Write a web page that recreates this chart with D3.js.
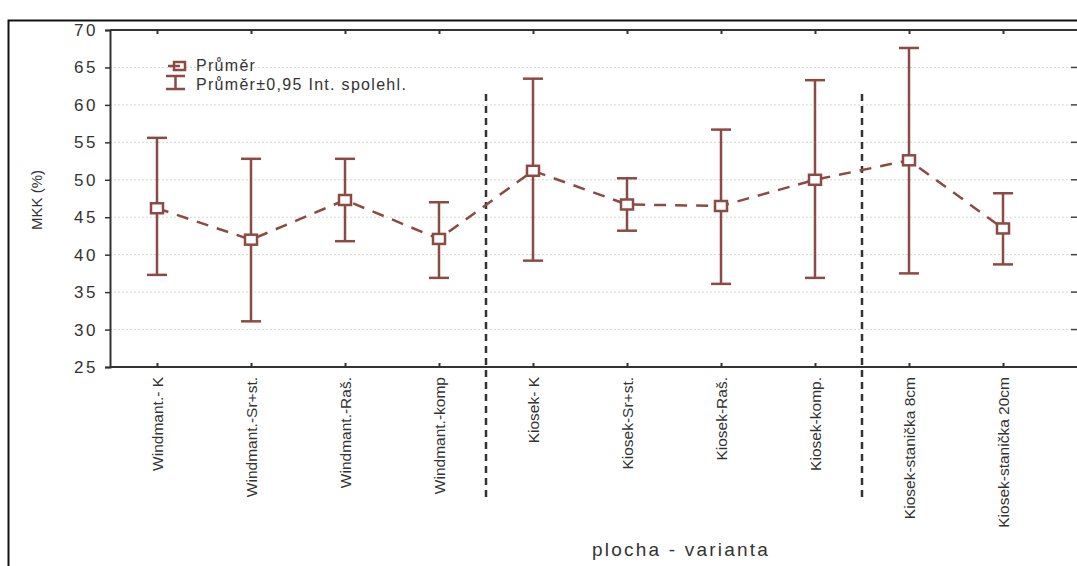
<!DOCTYPE html>
<html>
<head>
<meta charset="utf-8">
<script src="https://cdn.jsdelivr.net/npm/d3@7"></script>
<style>
  body { margin: 0; background: #fff; }
  svg { display: block; font-family: "Liberation Sans", Arial, sans-serif; }
</style>
</head>
<body>
<div id="chart"></div>
<script>
// data
const categories = ["Windmant.- K", "Windmant.-Sr+st.", "Windmant.-Raš.", "Windmant.-komp",
    "Kiosek- K", "Kiosek-Sr+st.", "Kiosek-Raš.", "Kiosek-komp.",
    "Kiosek-stanička 8cm", "Kiosek-stanička 20cm"];
const means = [46.2, 42.0, 47.3, 42.1, 51.2, 46.7, 46.5, 50.0, 52.6, 43.5];
const upper = [55.6, 52.8, 52.8, 47.0, 63.5, 50.2, 56.7, 63.3, 67.6, 48.2];
const lower = [37.3, 31.1, 41.8, 36.9, 39.2, 43.2, 36.1, 36.9, 37.5, 38.7];
const yTicks = [25, 30, 35, 40, 45, 50, 55, 60, 65, 70];
// group separators sit between these categories
const separators = [[3, 4], [7, 8]];

const W = 1077, H = 566;
const margin = {top: 30, left: 110, bottom: 199};
const plotBottom = H - margin.bottom;
const red = "#8c4a44";

const svg = d3.select("#chart").append("svg")
    .attr("width", W).attr("height", H);

// outer frame
svg.append("path")
    .attr("d", "M8.5," + H + "V20.5H" + W)
    .attr("fill", "none").attr("stroke", "#111").attr("stroke-width", 2);

const x = d3.scalePoint().domain(categories).range([margin.left, 1050]).padding(0.5);
const y = d3.scaleLinear().domain([25, 70]).range([plotBottom, margin.top]);

// gridlines
svg.append("g").selectAll("line")
    .data(yTicks.slice(1, -1))
    .enter().append("line")
    .attr("x1", margin.left).attr("x2", W)
    .attr("y1", d => y(d)).attr("y2", d => y(d))
    .attr("stroke", "#d6d6d6").attr("stroke-width", 1)
    .attr("stroke-dasharray", "2,2");

// right side ticks
svg.append("g").selectAll("line")
    .data(yTicks)
    .enter().append("line")
    .attr("x1", 1071).attr("x2", W)
    .attr("y1", d => y(d)).attr("y2", d => y(d))
    .attr("stroke", "#444").attr("stroke-width", 1.5);

// left axis
const yAxis = svg.append("g")
    .attr("transform", "translate(" + margin.left + ",0)")
    .call(d3.axisLeft(y).tickValues(yTicks).tickSize(5).tickPadding(7));
yAxis.select(".domain").attr("stroke", "#333").attr("stroke-width", 2);
yAxis.selectAll(".tick line").attr("stroke", "#333").attr("stroke-width", 1.5);
yAxis.selectAll("text").attr("font-size", 17).attr("letter-spacing", 2.5).attr("fill", "#333");

// bottom axis
const xAxis = svg.append("g")
    .attr("transform", "translate(0," + plotBottom + ")")
    .call(d3.axisBottom(x).tickSize(-4).tickPadding(8));
xAxis.select(".domain").attr("d", "M" + margin.left + ",0H" + W)
    .attr("stroke", "#333").attr("stroke-width", 2);
xAxis.selectAll(".tick line").attr("stroke", "#333").attr("stroke-width", 2);
xAxis.selectAll("text")
    .attr("font-size", 15.5).attr("fill", "#333")
    .attr("transform", "rotate(-90)")
    .attr("text-anchor", "end")
    .attr("x", -10).attr("y", 0).attr("dy", "0.35em");

// top border with ticks
const xTop = svg.append("g")
    .attr("transform", "translate(0," + margin.top + ")")
    .call(d3.axisTop(x).tickSize(-4).tickFormat(""));
xTop.select(".domain").attr("d", "M" + margin.left + ",0H" + W)
    .attr("stroke", "#333").attr("stroke-width", 2);
xTop.selectAll(".tick line").attr("stroke", "#333").attr("stroke-width", 2);

// group separators
svg.append("g").selectAll("line")
    .data(separators)
    .enter().append("line")
    .attr("x1", d => (x(categories[d[0]]) + x(categories[d[1]])) / 2)
    .attr("x2", d => (x(categories[d[0]]) + x(categories[d[1]])) / 2)
    .attr("y1", 94).attr("y2", 500)
    .attr("stroke", "#333").attr("stroke-width", 2.5)
    .attr("stroke-dasharray", "7,5");

// error bars
const bars = svg.append("g").selectAll("g")
    .data(categories)
    .enter().append("g")
    .attr("stroke", red).attr("stroke-width", 2.5);
bars.append("line")
    .attr("x1", d => x(d)).attr("x2", d => x(d))
    .attr("y1", (d, i) => y(upper[i])).attr("y2", (d, i) => y(lower[i]));
bars.append("line")
    .attr("x1", d => x(d) - 10).attr("x2", d => x(d) + 10)
    .attr("y1", (d, i) => y(upper[i])).attr("y2", (d, i) => y(upper[i]));
bars.append("line")
    .attr("x1", d => x(d) - 10).attr("x2", d => x(d) + 10)
    .attr("y1", (d, i) => y(lower[i])).attr("y2", (d, i) => y(lower[i]));

// mean line
const line = d3.line()
    .x(d => x(d))
    .y((d, i) => y(means[i]));
svg.append("path")
    .datum(categories)
    .attr("d", line)
    .attr("fill", "none").attr("stroke", red).attr("stroke-width", 2.5)
    .attr("stroke-dasharray", "12,9");

// mean markers
svg.append("g").selectAll("rect")
    .data(categories)
    .enter().append("rect")
    .attr("x", d => x(d) - 6).attr("y", (d, i) => y(means[i]) - 5)
    .attr("width", 12).attr("height", 10)
    .attr("fill", "#fff").attr("stroke", red).attr("stroke-width", 2.5);

// legend
const legend = svg.append("g");
legend.append("rect")
    .attr("x", 174).attr("y", 62).attr("width", 11).attr("height", 8)
    .attr("fill", "#fff").attr("stroke", red).attr("stroke-width", 2.5);
legend.append("line")
    .attr("x1", 168).attr("x2", 180).attr("y1", 66).attr("y2", 66)
    .attr("stroke", red).attr("stroke-width", 2.5);
legend.append("path")
    .attr("d", "M166,76H185M175.5,76V89M166,89H185")
    .attr("fill", "none").attr("stroke", red).attr("stroke-width", 2.5);
legend.append("text").attr("x", 196).attr("y", 71)
    .attr("font-size", 16).attr("letter-spacing", 1.3)
    .attr("fill", "#333").text("Průměr");
legend.append("text").attr("x", 196).attr("y", 90)
    .attr("font-size", 16).attr("letter-spacing", 1.3)
    .attr("fill", "#333").text("Průměr±0,95 Int. spolehl.");

// axis titles
svg.append("text")
    .attr("transform", "translate(42,200) rotate(-90)")
    .attr("text-anchor", "middle")
    .attr("font-size", 15).attr("fill", "#333")
    .text("MKK (%)");
svg.append("text")
    .attr("x", 681).attr("y", 556)
    .attr("text-anchor", "middle")
    .attr("font-size", 19).attr("fill", "#333")
    .attr("letter-spacing", 2.2)
    .text("plocha - varianta");
</script>
</body>
</html>
